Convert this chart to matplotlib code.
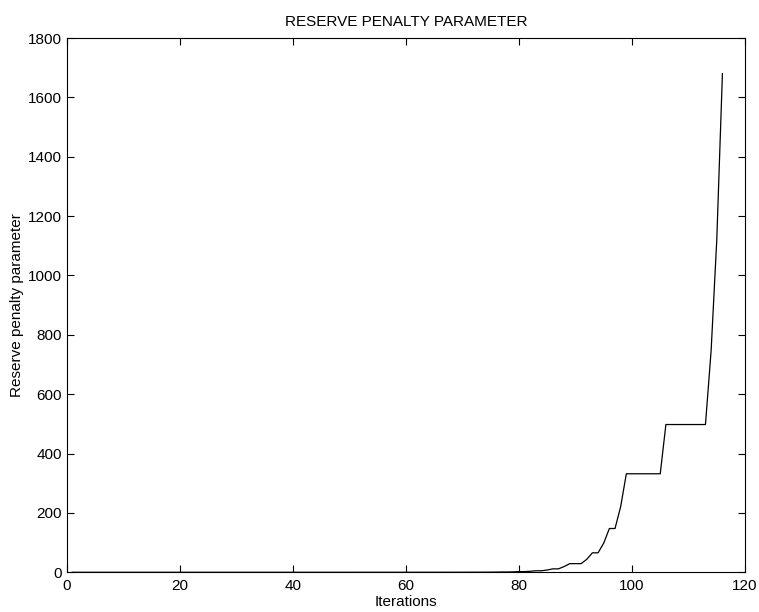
import matplotlib
matplotlib.use("Agg")
import matplotlib.pyplot as plt
import numpy as np

# penalty parameter per iteration
early = [0.001] * 45 + [0.002, 0.002, 0.003, 0.003, 0.005, 0.005, 0.008, 0.008, 0.01, 0.01,
                        0.015, 0.015, 0.02, 0.02, 0.03, 0.03, 0.04, 0.04, 0.06, 0.06,
                        0.09, 0.09, 0.13, 0.13, 0.2, 0.2, 0.3, 0.3, 0.45]
late = [0.45, 0.68, 1.0, 1.0, 1.5, 2.3, 2.3, 3.4, 5.1, 5.1, 7.7, 11.5, 11.5, 19.4,
        29.1, 29.1, 29.1, 43.7, 65.6, 65.6, 98.3, 147.5, 147.5, 221.3,
        331.9, 331.9, 331.9, 331.9, 331.9, 331.9, 331.9,
        497.8, 497.8, 497.8, 497.8, 497.8, 497.8, 497.8, 497.8,
        746.7, 1120.0, 1680.0]
penalty = early + late
iterations = np.arange(1, len(penalty) + 1)

xticks = [0, 20, 40, 60, 80, 100, 120]
yticks = [0, 200, 400, 600, 800, 1000, 1200, 1400, 1600, 1800]

plt.rcParams['font.family'] = ['Liberation Sans', 'DejaVu Sans']
plt.rcParams['font.size'] = 11

fig = plt.figure(figsize=(7.59, 6.12), dpi=100)
ax = fig.add_axes([0.0879, 0.0649, 0.8937, 0.873])
ax.plot(iterations, penalty, color='black', linewidth=0.9)
ax.set_xlim(0, 120)
ax.set_ylim(0, 1800)
ax.set_xticks(xticks)
ax.set_yticks(yticks)
ax.tick_params(direction='in', top=True, right=True, length=4.8)
ax.tick_params(axis='x', pad=5)
ax.tick_params(axis='y', pad=3.5)
ax.set_title('RESERVE PENALTY PARAMETER', fontsize=11, pad=9)
ax.set_xlabel('Iterations', labelpad=1.5)
ax.set_ylabel('Reserve penalty parameter', labelpad=3)

fig.savefig('out.png', dpi=100)
